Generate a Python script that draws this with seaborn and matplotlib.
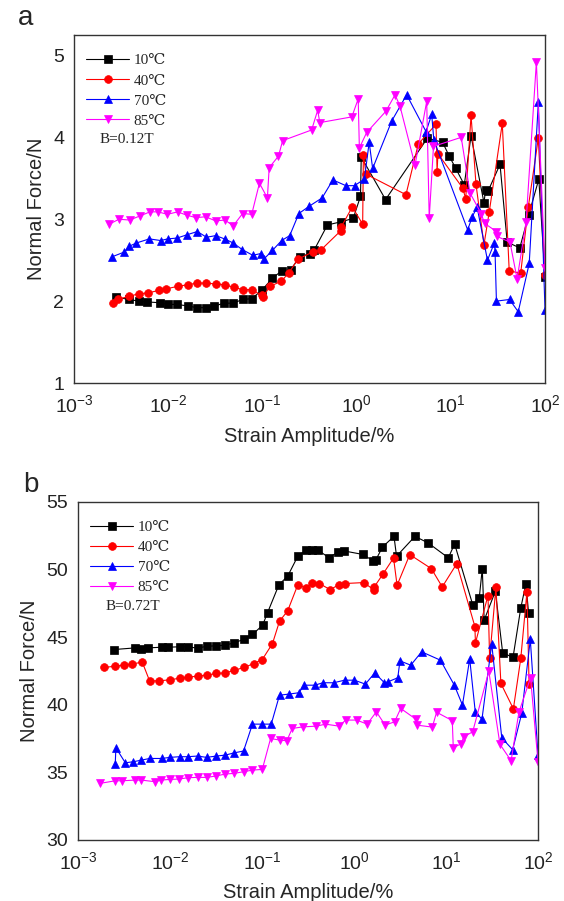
import numpy as np
import pandas as pd
import matplotlib
matplotlib.use("Agg")
import matplotlib.pyplot as plt
import seaborn as sns
from matplotlib.ticker import LogLocator, FixedLocator, MultipleLocator, NullFormatter
from matplotlib.font_manager import FontProperties

# ---------------- data: panel a (B = 0.12 T) ----------------
a_x10 = [0.0028, 0.0038, 0.0049, 0.0060, 0.0082, 0.0099, 0.0124, 0.0163, 0.0201, 0.025, 0.031, 0.039,
         0.049, 0.0615, 0.077, 0.098, 0.128, 0.160, 0.199, 0.248, 0.318, 0.353, 0.49, 0.69, 0.92, 1.10,
         1.12, 2.03, 5.64, 8.18, 9.63, 11.3, 13.9, 16.4, 22.5, 23.4, 25.0, 33.3, 39.7, 54, 67, 86, 100]
a_y10 = [2.05, 2.02, 2.00, 1.99, 1.98, 1.96, 1.96, 1.94, 1.92, 1.92, 1.94, 1.975,
         1.975, 2.02, 2.03, 2.13, 2.28, 2.37, 2.38, 2.54, 2.58, 2.62, 2.93, 2.97, 3.01, 3.28,
         3.76, 3.24, 3.99, 3.94, 3.77, 3.62, 3.42, 4.02, 3.20, 3.36, 3.35, 3.67, 2.72, 2.65, 3.05, 3.49, 2.30]

a_x40 = [0.00257, 0.0029, 0.00386, 0.0049, 0.0061, 0.0079, 0.0095, 0.0126, 0.0161, 0.0201, 0.0251, 0.0318,
         0.0396, 0.0494, 0.062, 0.0774, 0.098, 0.101, 0.12, 0.157, 0.19, 0.237, 0.341, 0.414, 0.68, 0.69,
         0.90, 1.16, 1.18, 1.26, 3.34, 4.52, 6.97, 7.15, 7.3, 13.4, 14.4, 16.4, 18.5, 22.5, 25.6, 35.2,
         41.7, 55.2, 66.5, 84.9, 100]
a_y40 = [1.98, 2.02, 2.06, 2.09, 2.10, 2.13, 2.15, 2.18, 2.20, 2.22, 2.22, 2.21,
         2.20, 2.17, 2.14, 2.14, 2.07, 2.05, 2.18, 2.24, 2.34, 2.51, 2.60, 2.62, 2.86, 2.91,
         3.15, 2.94, 3.79, 3.55, 3.30, 3.92, 4.16, 3.58, 3.80, 3.38, 3.25, 4.27, 3.43, 2.69, 3.09, 4.17,
         2.37, 2.34, 3.15, 3.99, 2.32]

a_x70 = [0.00252, 0.00343, 0.00385, 0.0046, 0.0063, 0.0083, 0.0099, 0.0124, 0.0158, 0.0204, 0.0255, 0.032,
         0.0396, 0.049, 0.061, 0.079, 0.0955, 0.105, 0.128, 0.16, 0.195, 0.244, 0.315, 0.43, 0.56, 0.77,
         0.95, 1.21, 1.36, 1.48, 2.36, 3.40, 5.46, 6.27, 6.6, 15.1, 16.9, 19.0, 24.5, 29.0, 29.5, 30.5,
         42.0, 52.0, 68.0, 85.0, 100]
a_y70 = [2.54, 2.60, 2.67, 2.71, 2.76, 2.74, 2.76, 2.77, 2.81, 2.85, 2.78, 2.80,
         2.76, 2.71, 2.63, 2.56, 2.58, 2.52, 2.62, 2.74, 2.80, 3.07, 3.16, 3.26, 3.48, 3.41,
         3.41, 3.49, 3.94, 3.62, 4.20, 4.52, 4.07, 4.28, 3.97, 2.87, 3.03, 3.15, 2.50, 2.71, 2.60, 2.00,
         2.02, 1.87, 2.46, 4.43, 1.89]

a_x85 = [0.00237, 0.0030, 0.0039, 0.0050, 0.0064, 0.0078, 0.0098, 0.0126, 0.0157, 0.0197, 0.025, 0.0318,
         0.040, 0.049, 0.0617, 0.077, 0.093, 0.113, 0.118, 0.148, 0.164, 0.333, 0.386, 0.407, 0.89, 1.04,
         1.07, 1.28, 2.05, 2.56, 2.89, 4.17, 5.55, 5.9, 6.55, 12.9, 16.0, 21.0, 22.8, 30.5, 31.0, 42.5,
         50.6, 63, 81, 100]
a_y85 = [2.94, 3.00, 2.99, 3.04, 3.09, 3.09, 3.06, 3.09, 3.05, 3.02, 3.03, 2.98,
         2.99, 2.92, 3.07, 3.06, 3.44, 3.26, 3.63, 3.77, 3.96, 4.09, 4.33, 4.18, 4.25, 4.47,
         3.87, 4.06, 4.32, 4.52, 4.38, 3.66, 4.44, 3.01, 3.89, 4.00, 3.32, 3.07, 2.95, 2.85, 2.79, 2.72,
         2.27, 2.97, 4.92, 2.40]

# ---------------- data: panel b (B = 0.72 T) ----------------
b_x10 = [0.00249, 0.0042, 0.0049, 0.0058, 0.0082, 0.0096, 0.0127, 0.0155, 0.020, 0.025, 0.0313, 0.040,
         0.0493, 0.063, 0.0788, 0.1016, 0.115, 0.153, 0.19, 0.245, 0.30, 0.35, 0.41, 0.53, 0.67, 0.78,
         1.25, 1.62, 1.72, 2.04, 2.72, 2.90, 4.60, 6.4, 10.6, 12.4, 19.6, 23.0, 24.8, 26.0, 34.4, 41.3,
         53.5, 65, 74, 79]
b_y10 = [44.09, 44.21, 44.14, 44.21, 44.26, 44.26, 44.29, 44.29, 44.19, 44.33, 44.36, 44.41,
         44.58, 44.83, 45.20, 45.89, 46.82, 48.89, 49.51, 50.99, 51.43, 51.48, 51.43, 50.89, 51.28, 51.38,
         51.12, 50.64, 50.69, 51.67, 52.46, 50.99, 52.46, 51.97, 50.87, 51.90, 47.36, 47.93, 50.07, 46.26,
         48.40, 43.85, 43.50, 47.17, 48.97, 46.76]

b_x40 = [0.00194, 0.00254, 0.00318, 0.0039, 0.0050, 0.0060, 0.0075, 0.0101, 0.0127, 0.0155, 0.020, 0.025,
         0.0319, 0.0401, 0.0501, 0.064, 0.081, 0.1007, 0.130, 0.155, 0.19, 0.244, 0.30, 0.35, 0.42, 0.55,
         0.69, 0.79, 1.28, 1.63, 1.66, 2.08, 2.69, 2.94, 4.04, 6.93, 9.1, 13.1, 20.6, 20.9, 28.6, 29.8,
         34.9, 39.5, 54, 65, 75.8, 80]
b_y40 = [42.76, 42.86, 42.93, 43.03, 43.15, 41.77, 41.77, 41.85, 41.97, 42.04, 42.12, 42.19,
         42.32, 42.36, 42.56, 42.76, 43.05, 43.35, 44.53, 46.18, 46.95, 48.84, 48.67, 49.01, 48.97, 48.52,
         48.89, 48.97, 49.04, 48.52, 48.72, 49.70, 50.86, 48.84, 51.11, 50.07, 48.72, 50.44, 45.79, 44.58,
         48.08, 43.43, 48.72, 41.58, 39.70, 43.43, 48.35, 41.55]

b_x70 = [0.00254, 0.00258, 0.00327, 0.0040, 0.0049, 0.0060, 0.0082, 0.0099, 0.0127, 0.0155, 0.020, 0.025,
         0.0319, 0.040, 0.0501, 0.063, 0.0788, 0.1007, 0.126, 0.155, 0.195, 0.251, 0.288, 0.374, 0.46,
         0.60, 0.79, 1.01, 1.33, 1.68, 2.14, 2.34, 2.99, 3.16, 4.14, 5.43, 8.7, 12.3, 15.1, 18.1, 20.8,
         24.6, 31.4, 40.4, 53, 66.5, 82.5, 100]
b_y70 = [35.62, 36.82, 35.71, 35.79, 35.91, 36.03, 36.03, 36.11, 36.16, 36.16, 36.21, 36.11,
         36.21, 36.28, 36.45, 36.58, 38.57, 38.57, 38.57, 40.71, 40.79, 40.89, 41.45, 41.45, 41.63,
         41.63, 41.82, 41.82, 41.53, 42.36, 41.63, 41.70, 42.00, 43.25, 42.93, 43.92, 43.30, 41.46, 39.98,
         43.40, 39.48, 38.93, 44.50, 37.55, 36.68, 39.36, 44.83, 36.28]

b_x85 = [0.00174, 0.00254, 0.0030, 0.0042, 0.0049, 0.0069, 0.0080, 0.0099, 0.0126, 0.0158, 0.020, 0.025,
         0.0313, 0.040, 0.0501, 0.063, 0.0788, 0.1007, 0.124, 0.155, 0.186, 0.213, 0.28, 0.39, 0.49, 0.69,
         0.81, 1.07, 1.39, 1.75, 2.18, 2.76, 3.22, 4.74, 4.8, 7.1, 7.9, 11.7, 12.0, 14.6, 15.6, 19.5,
         29.2, 38.6, 51, 62, 83, 100]
b_y85 = [34.19, 34.38, 34.38, 34.43, 34.43, 34.31, 34.43, 34.48, 34.51, 34.61, 34.63, 34.63,
         34.73, 34.88, 34.93, 35.05, 35.17, 35.22, 37.51, 37.39, 37.34, 38.25, 38.37, 38.42, 38.57, 38.42,
         38.87, 38.87, 38.57, 39.48, 38.50, 38.74, 39.73, 38.92, 38.50, 38.35, 39.45, 38.83, 36.82, 37.12,
         37.64, 38.00, 42.48, 37.08, 35.86, 39.45, 42.00, 35.80]

labels = ["10\u2103", "40\u2103", "70\u2103", "85\u2103"]
colors = ["#000000", "#FF0000", "#0000FF", "#FF00FF"]
markers = ["s", "o", "^", "v"]
xticks = [1e-3, 1e-2, 1e-1, 1e0, 1e1, 1e2]
xticklabels = [r"$\mathregular{10^{-3}}$", r"$\mathregular{10^{-2}}$", r"$\mathregular{10^{-1}}$",
               r"$\mathregular{10^{0}}$", r"$\mathregular{10^{1}}$", r"$\mathregular{10^{2}}$"]

sns.set_style("white")
plt.rcParams["font.family"] = ["Liberation Sans", "DejaVu Sans"]
plt.rcParams["mathtext.default"] = "regular"

fig = plt.figure(figsize=(5.64, 9.01), dpi=100)
ax_a = fig.add_axes([74 / 564, 1 - 383 / 901, 471 / 564, 348 / 901])
ax_b = fig.add_axes([78 / 564, 1 - 840 / 901, 460 / 564, 338 / 901])

legend_font = FontProperties(family=["Liberation Serif", "DejaVu Serif"], size=11)


def draw(ax, series, ylim, ymajor, yminor, btxt, letter, xlpad):
    for (xs, ys), lab, c, m in zip(series, labels, colors, markers):
        df = pd.DataFrame({"x": xs, "y": ys})
        sns.lineplot(data=df, x="x", y="y", ax=ax, sort=False, estimator=None,
                     color=c, marker=m, markersize=5.6, markeredgecolor=c,
                     markerfacecolor=c, markeredgewidth=0.5, linewidth=0.8,
                     label=lab, clip_on=True)
    ax.set_xscale("log")
    ax.set_xlim(1e-3, 1e2)
    ax.set_ylim(*ylim)
    ax.xaxis.set_major_locator(FixedLocator(xticks))
    ax.set_xticks(xticks)
    ax.set_xticklabels(xticklabels)
    ax.xaxis.set_minor_locator(LogLocator(base=10, subs=np.arange(2, 10), numticks=20))
    ax.xaxis.set_minor_formatter(NullFormatter())
    ax.yaxis.set_major_locator(MultipleLocator(ymajor))
    ax.yaxis.set_minor_locator(MultipleLocator(yminor))
    ax.tick_params(axis="both", which="both", direction="in", top=False, right=False,
                   labelsize=14, colors="#222222", width=0.9)
    ax.tick_params(axis="x", which="major", pad=8)
    ax.tick_params(axis="y", which="major", pad=7)
    ax.tick_params(which="major", length=6)
    ax.tick_params(which="minor", length=3.5)
    for sp in ax.spines.values():
        sp.set_visible(True)
        sp.set_color("#333333")
        sp.set_linewidth(1.0)
    ax.set_xlabel("Strain Amplitude/%", fontsize=14.5, labelpad=xlpad)
    ax.set_ylabel("Normal Force/N", fontsize=14.5, labelpad=5)
    ax.grid(False)
    ax.legend(loc="upper left", bbox_to_anchor=(0.02, 0.955), frameon=False,
              prop=legend_font, handlelength=2.8, handletextpad=0.3,
              labelspacing=0.42, borderaxespad=0, borderpad=0.2)
    ax.text(btxt[0], btxt[1], btxt[2], transform=ax.transAxes, fontproperties=legend_font,
            va="center", ha="left")
    ax.text(-0.12, 1.05, letter, transform=ax.transAxes, fontsize=20, va="center", ha="left")


draw(ax_a, [(a_x10, a_y10), (a_x40, a_y40), (a_x70, a_y70), (a_x85, a_y85)],
     (1, 5.25), 1, 0.5, (0.055, 0.70, "B=0.12T"), "a", 8)
draw(ax_b, [(b_x10, b_y10), (b_x40, b_y40), (b_x70, b_y70), (b_x85, b_y85)],
     (30, 55), 5, 2.5, (0.06, 0.69, "B=0.72T"), "b", 7)

fig.savefig("out.png", dpi=100)
